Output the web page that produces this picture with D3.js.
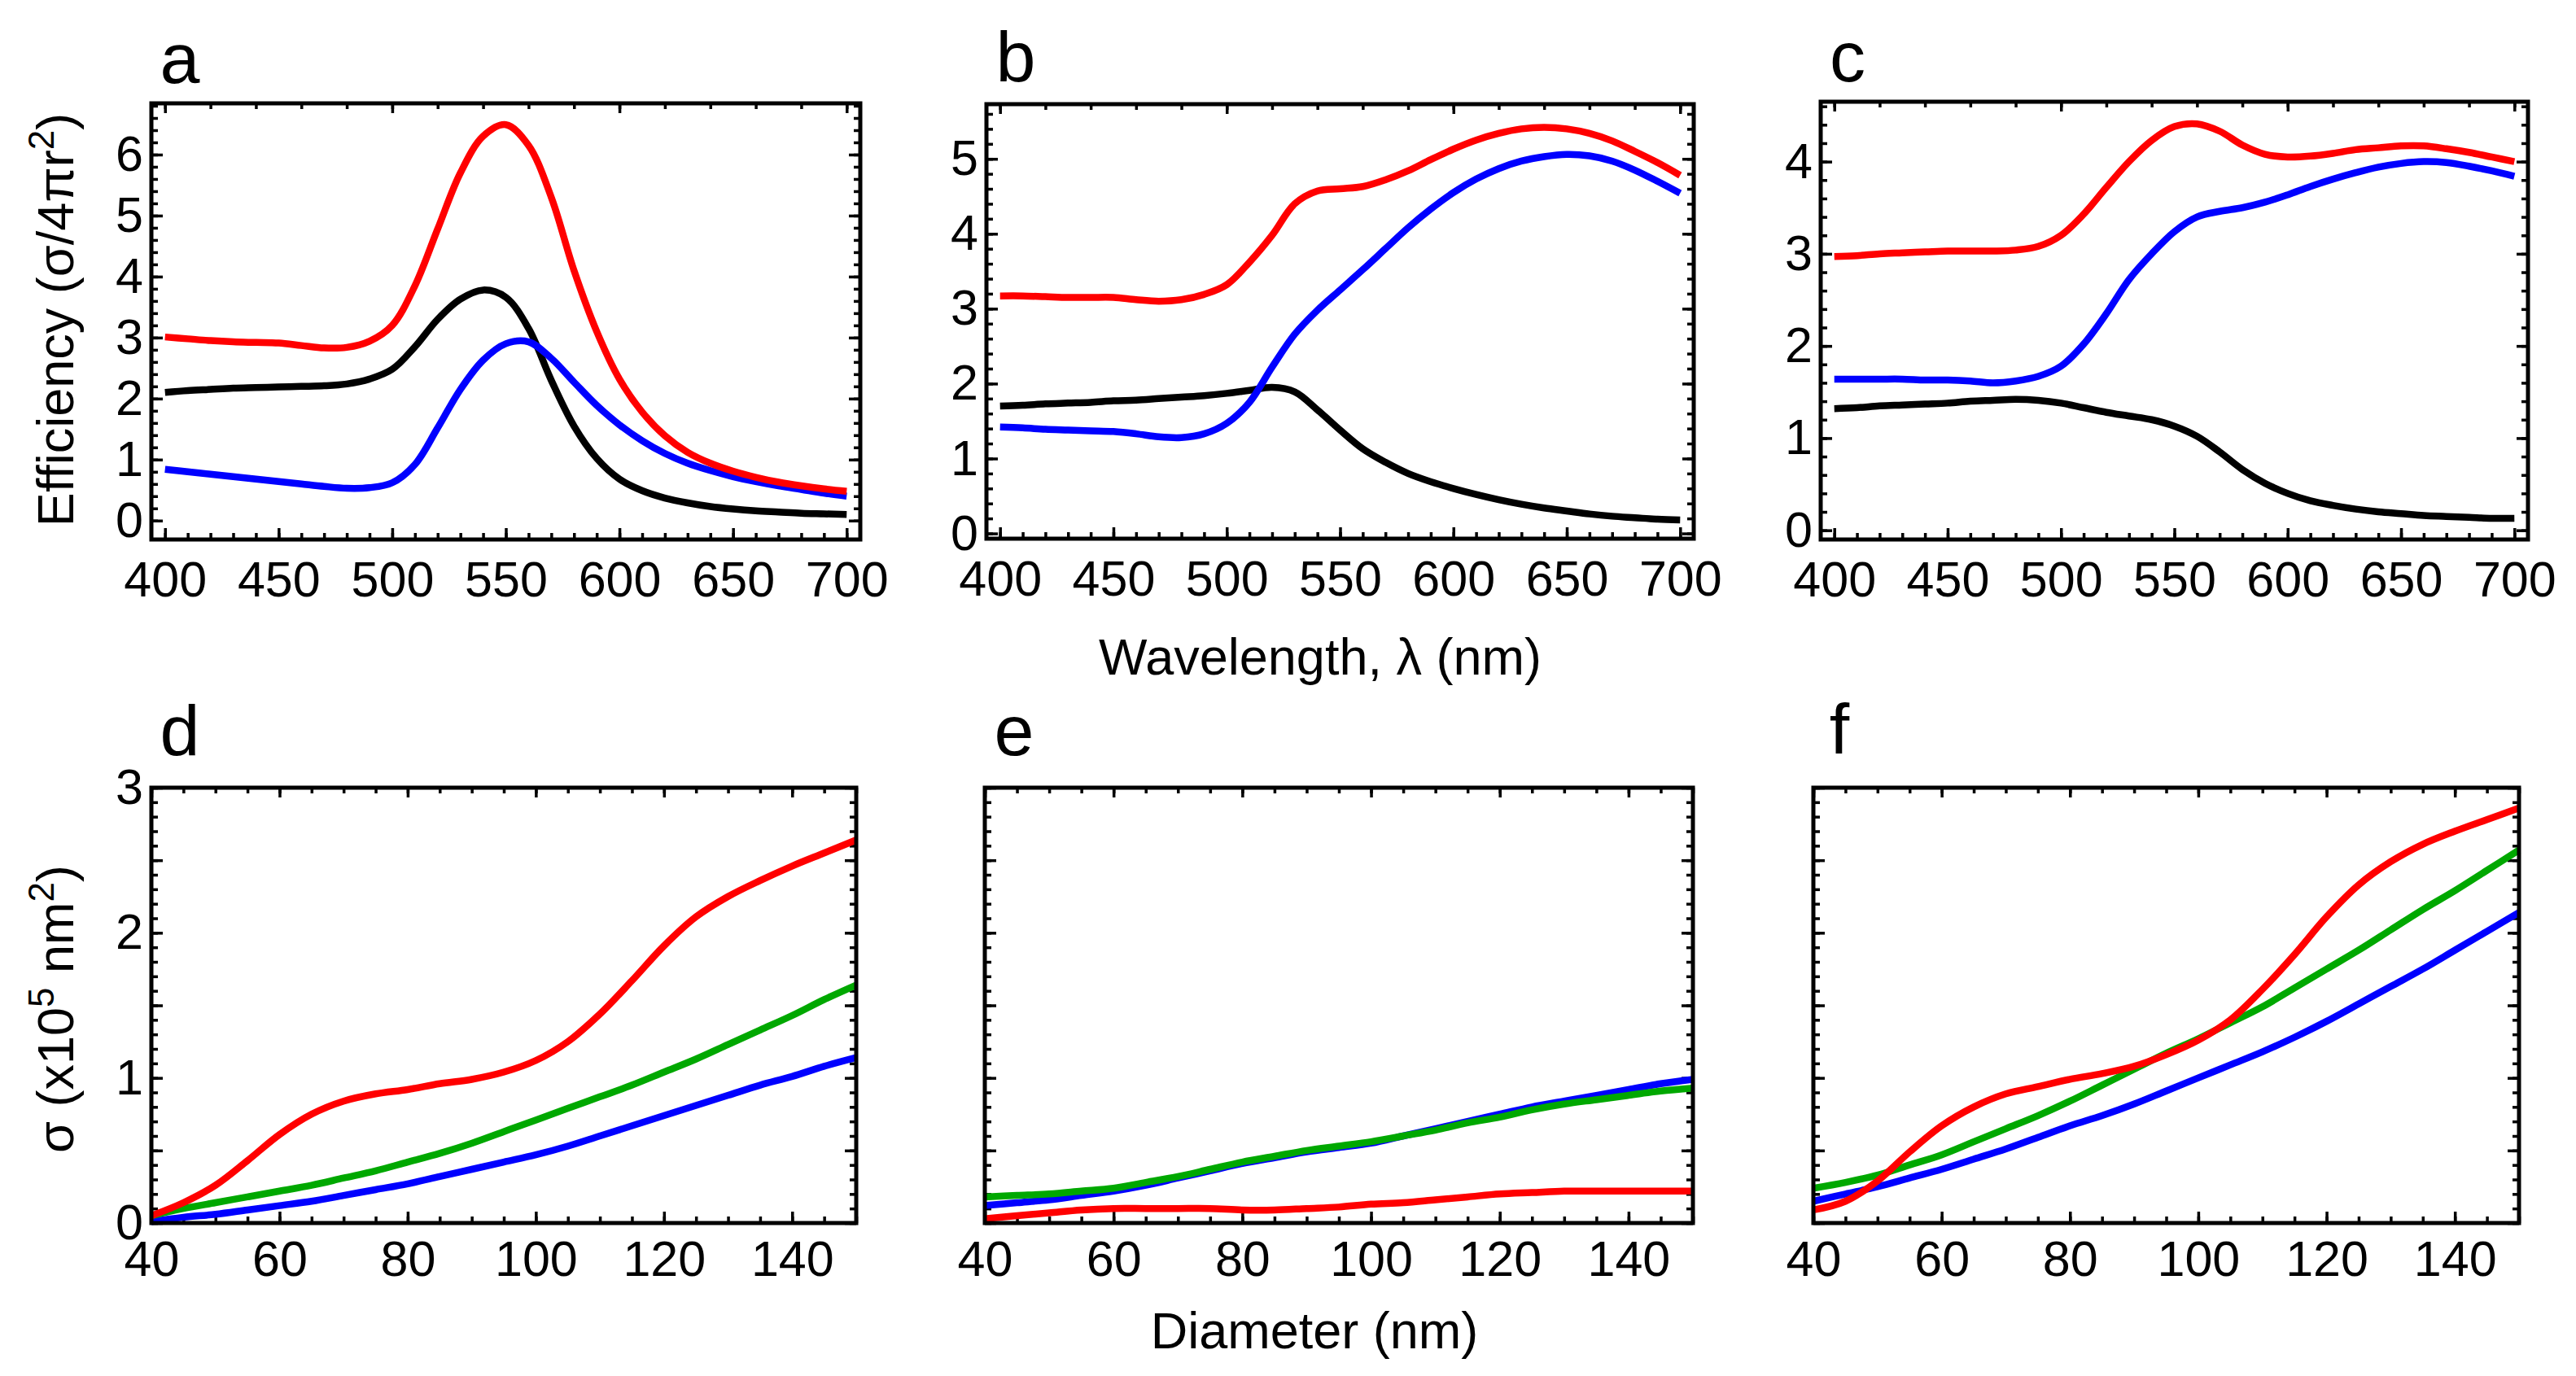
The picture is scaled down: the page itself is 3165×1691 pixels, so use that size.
<!DOCTYPE html>
<html lang="en">
<head>
  <meta charset="UTF-8">
  <script src="https://d3js.org/d3.v7.min.js"></script>
  <style>
    body { margin: 0; background: #fff; }
    text { font-family: "Liberation Sans", Arial, sans-serif; fill: #000; }
  </style>
</head>
<body>
<div id="my_dataviz"></div>
<script>
// ---- data ----
var wavelengths = [400, 410, 420, 430, 440, 450, 460, 470, 480, 490, 500, 510, 520, 530, 540, 550,
                   560, 570, 580, 590, 600, 610, 620, 630, 640, 650, 660, 670, 680, 690, 700];
var diameters = [40, 45, 50, 55, 60, 65, 70, 75, 80, 85, 90, 95, 100, 105, 110, 115, 120, 125, 130, 135, 140, 145, 150];

// panel a
var aRed   = [3.01, 2.98, 2.95, 2.93, 2.92, 2.91, 2.87, 2.83, 2.84, 2.94, 3.20, 3.85, 4.78, 5.70, 6.30, 6.49,
              6.15, 5.30, 4.10, 3.10, 2.32, 1.78, 1.39, 1.12, 0.94, 0.81, 0.71, 0.63, 0.57, 0.52, 0.48];
var aBlack = [2.10, 2.13, 2.15, 2.17, 2.18, 2.19, 2.20, 2.21, 2.24, 2.32, 2.48, 2.85, 3.30, 3.63, 3.78, 3.66,
              3.15, 2.30, 1.55, 1.02, 0.68, 0.49, 0.37, 0.29, 0.23, 0.19, 0.16, 0.14, 0.12, 0.11, 0.10];
var aBlue  = [0.84, 0.80, 0.76, 0.72, 0.68, 0.64, 0.60, 0.56, 0.53, 0.54, 0.62, 0.92, 1.52, 2.15, 2.63, 2.90,
              2.93, 2.66, 2.27, 1.89, 1.57, 1.31, 1.10, 0.94, 0.82, 0.72, 0.64, 0.57, 0.51, 0.45, 0.40];
// panel b
var bRed   = [3.17, 3.17, 3.16, 3.15, 3.15, 3.15, 3.12, 3.10, 3.12, 3.19, 3.32, 3.62, 3.98, 4.40, 4.57, 4.60,
              4.63, 4.72, 4.84, 4.99, 5.13, 5.25, 5.34, 5.40, 5.42, 5.40, 5.34, 5.24, 5.10, 4.95, 4.78];
var bBlack = [1.70, 1.71, 1.73, 1.74, 1.75, 1.77, 1.78, 1.80, 1.82, 1.84, 1.87, 1.91, 1.95, 1.89, 1.65, 1.38,
              1.13, 0.95, 0.80, 0.69, 0.60, 0.52, 0.45, 0.39, 0.34, 0.30, 0.26, 0.23, 0.21, 0.19, 0.18];
var bBlue  = [1.42, 1.41, 1.39, 1.38, 1.37, 1.36, 1.33, 1.29, 1.28, 1.33, 1.47, 1.75, 2.22, 2.66, 2.98, 3.25,
              3.52, 3.80, 4.08, 4.33, 4.55, 4.73, 4.87, 4.97, 5.03, 5.06, 5.04, 4.97, 4.85, 4.70, 4.54];
// panel c
var cRed   = [2.97, 2.98, 3.00, 3.01, 3.02, 3.03, 3.03, 3.03, 3.04, 3.08, 3.20, 3.43, 3.72, 4.00, 4.23, 4.38,
              4.41, 4.33, 4.18, 4.08, 4.05, 4.06, 4.09, 4.13, 4.15, 4.17, 4.17, 4.14, 4.10, 4.05, 4.00];
var cBlack = [1.32, 1.33, 1.35, 1.36, 1.37, 1.38, 1.40, 1.41, 1.42, 1.41, 1.38, 1.33, 1.28, 1.24, 1.20, 1.13,
              1.02, 0.85, 0.66, 0.51, 0.40, 0.32, 0.27, 0.23, 0.20, 0.18, 0.16, 0.15, 0.14, 0.13, 0.13];
var cBlue  = [1.64, 1.64, 1.64, 1.64, 1.63, 1.63, 1.62, 1.60, 1.62, 1.67, 1.78, 2.02, 2.35, 2.72, 3.00, 3.24,
              3.40, 3.46, 3.50, 3.56, 3.64, 3.73, 3.81, 3.88, 3.94, 3.98, 4.00, 3.99, 3.95, 3.90, 3.84];
// panel d
var dRed   = [0.05, 0.14, 0.26, 0.43, 0.61, 0.75, 0.84, 0.89, 0.92, 0.96, 0.99, 1.04, 1.12, 1.25, 1.44, 1.67,
              1.91, 2.11, 2.25, 2.36, 2.46, 2.55, 2.64];
var dGreen = [0.05, 0.10, 0.14, 0.18, 0.22, 0.26, 0.31, 0.36, 0.42, 0.48, 0.55, 0.63, 0.71, 0.79, 0.87, 0.95,
              1.04, 1.13, 1.23, 1.33, 1.43, 1.54, 1.64];
var dBlue  = [0.01, 0.04, 0.06, 0.09, 0.12, 0.15, 0.19, 0.23, 0.27, 0.32, 0.37, 0.42, 0.47, 0.53, 0.60, 0.67,
              0.74, 0.81, 0.88, 0.95, 1.01, 1.08, 1.14];
// panel e
var eRed   = [0.03, 0.05, 0.07, 0.09, 0.10, 0.10, 0.10, 0.10, 0.09, 0.09, 0.10, 0.11, 0.13, 0.14, 0.16, 0.18,
              0.20, 0.21, 0.22, 0.22, 0.22, 0.22, 0.22];
var eGreen = [0.18, 0.19, 0.20, 0.22, 0.24, 0.28, 0.32, 0.37, 0.42, 0.46, 0.50, 0.53, 0.56, 0.60, 0.64, 0.69,
              0.73, 0.78, 0.82, 0.85, 0.88, 0.91, 0.93];
var eBlue  = [0.12, 0.14, 0.16, 0.19, 0.22, 0.26, 0.31, 0.36, 0.41, 0.45, 0.49, 0.52, 0.55, 0.60, 0.65, 0.70,
              0.75, 0.80, 0.84, 0.88, 0.92, 0.96, 0.99];
// panel f
var fRed   = [0.09, 0.15, 0.29, 0.49, 0.67, 0.80, 0.89, 0.94, 0.99, 1.03, 1.08, 1.16, 1.26, 1.40, 1.61, 1.85,
              2.11, 2.33, 2.49, 2.61, 2.70, 2.78, 2.86];
var fGreen = [0.24, 0.28, 0.33, 0.40, 0.47, 0.56, 0.65, 0.74, 0.84, 0.95, 1.06, 1.17, 1.27, 1.38, 1.49, 1.62,
              1.75, 1.88, 2.02, 2.16, 2.29, 2.43, 2.57];
var fBlue  = [0.15, 0.20, 0.25, 0.31, 0.37, 0.44, 0.51, 0.59, 0.67, 0.74, 0.82, 0.91, 1.00, 1.09, 1.18, 1.28,
              1.39, 1.51, 1.63, 1.75, 1.88, 2.01, 2.14];

// tick labels
var wlTicks = [400, 450, 500, 550, 600, 650, 700];
var diamTicks = [40, 60, 80, 100, 120, 140];
var aTicks = [0, 1, 2, 3, 4, 5, 6];
var bTicks = [0, 1, 2, 3, 4, 5];
var cTicks = [0, 1, 2, 3, 4];
var sigmaTicks = [0, 1, 2, 3];

// ---- layout ----
var RED = "#ff0000", BLUE = "#0000ff", BLACK = "#000000", GREEN = "#00a800";

var svg = d3.select("#my_dataviz")
  .append("svg")
  .attr("width", 3165)
  .attr("height", 1691);

var panels = [
  { label: "a", box: [186, 127, 1057, 663], xDom: [394, 706], yDom: [-0.31, 6.84], xs: wavelengths, row: 0,
    yLabels: aTicks, series: [[aBlack, BLACK], [aBlue, BLUE], [aRed, RED]], labelPos: [221, 102] },
  { label: "b", box: [1212, 128, 2081, 662], xDom: [394, 706], yDom: [-0.07, 5.73], xs: wavelengths, row: 0,
    yLabels: bTicks, series: [[bBlack, BLACK], [bBlue, BLUE], [bRed, RED]], labelPos: [1248, 100] },
  { label: "c", box: [2237, 125, 3106, 663], xDom: [394, 706], yDom: [-0.10, 4.65], xs: wavelengths, row: 0,
    yLabels: cTicks, series: [[cBlack, BLACK], [cBlue, BLUE], [cRed, RED]], labelPos: [2270, 100] },
  { label: "d", box: [186, 968, 1052, 1503], xDom: [40, 150], yDom: [0, 3], xs: diameters, row: 1,
    yLabels: sigmaTicks, series: [[dBlue, BLUE], [dGreen, GREEN], [dRed, RED]], labelPos: [221, 928] },
  { label: "e", box: [1210, 968, 2080, 1503], xDom: [40, 150], yDom: [0, 3], xs: diameters, row: 1,
    yLabels: [], series: [[eRed, RED], [eBlue, BLUE], [eGreen, GREEN]], labelPos: [1246, 928] },
  { label: "f", box: [2228, 968, 3095, 1503], xDom: [40, 150], yDom: [0, 3], xs: diameters, row: 1,
    yLabels: [], series: [[fBlue, BLUE], [fGreen, GREEN], [fRed, RED]], labelPos: [2260, 926] }
];

function tickRange(a, b, step) {
  var out = [];
  for (var v = a; v <= b + 1e-9; v += step) out.push(Math.round(v * 1000) / 1000);
  return out;
}

function styleAxis(g) {
  g.select(".domain").remove();
  g.selectAll("line").attr("stroke", "#000").attr("stroke-width", 3.5);
  g.selectAll("text").attr("font-size", 61).attr("font-family", "'Liberation Sans', Arial, sans-serif").attr("fill", "#000");
}

panels.forEach(function(p) {
  var x0 = p.box[0], y0 = p.box[1], x1 = p.box[2], y1 = p.box[3];
  var x = d3.scaleLinear().domain(p.xDom).range([x0, x1]);
  var y = d3.scaleLinear().domain(p.yDom).range([y1, y0]);
  var g = svg.append("g");

  var botMajor, botMinor, topMajor, topMinor, leftMajor, leftMinor;
  if (p.row === 0) {
    botMajor = wlTicks; botMinor = tickRange(400, 700, 10);
    topMajor = [400, 500, 600, 700]; topMinor = tickRange(400, 700, 20);
    leftMajor = tickRange(0, Math.floor(p.yDom[1]), 1); leftMinor = tickRange(0, p.yDom[1], 0.2);
  } else {
    botMajor = diamTicks; botMinor = tickRange(40, 150, 5);
    topMajor = diamTicks; topMinor = tickRange(40, 150, 5);
    leftMajor = tickRange(0, 3, 0.5); leftMinor = tickRange(0, 3, 0.1);
  }
  var xLabels = p.row === 0 ? wlTicks : diamTicks;
  var pad = p.row === 0 ? 27 : 22;

  // minor ticks (inward)
  g.append("g").attr("transform", "translate(0," + y1 + ")")
    .call(d3.axisBottom(x).tickValues(botMinor).tickSize(-8).tickFormat("")).call(styleAxis);
  g.append("g").attr("transform", "translate(0," + y0 + ")")
    .call(d3.axisTop(x).tickValues(topMinor).tickSize(-7).tickFormat("")).call(styleAxis);
  g.append("g").attr("transform", "translate(" + x0 + ",0)")
    .call(d3.axisLeft(y).tickValues(leftMinor).tickSize(-8).tickFormat("")).call(styleAxis);
  g.append("g").attr("transform", "translate(" + x1 + ",0)")
    .call(d3.axisRight(y).tickValues(leftMinor).tickSize(-8).tickFormat("")).call(styleAxis);

  // major ticks with labels on bottom and left
  g.append("g").attr("transform", "translate(0," + y1 + ")")
    .call(d3.axisBottom(x).tickValues(botMajor).tickSize(-14).tickPadding(pad)
      .tickFormat(function(d) { return xLabels.indexOf(d) >= 0 ? d : ""; }))
    .call(styleAxis);
  g.append("g").attr("transform", "translate(0," + y0 + ")")
    .call(d3.axisTop(x).tickValues(topMajor).tickSize(-12).tickFormat("")).call(styleAxis);
  g.append("g").attr("transform", "translate(" + x0 + ",0)")
    .call(d3.axisLeft(y).tickValues(leftMajor).tickSize(-14).tickPadding(10)
      .tickFormat(function(d) { return p.yLabels.indexOf(d) >= 0 ? d : ""; }))
    .call(styleAxis);
  g.append("g").attr("transform", "translate(" + x1 + ",0)")
    .call(d3.axisRight(y).tickValues(leftMajor).tickSize(-14).tickFormat("")).call(styleAxis);

  // curves
  var line = d3.line()
    .x(function(d) { return x(d[0]); })
    .y(function(d) { return y(d[1]); })
    .curve(d3.curveCatmullRom.alpha(0.5));

  p.series.forEach(function(s) {
    var pts = p.xs.map(function(v, i) { return [v, s[0][i]]; });
    g.append("path")
      .datum(pts)
      .attr("d", line)
      .attr("fill", "none")
      .attr("stroke", s[1])
      .attr("stroke-width", 8.5)
      .attr("stroke-linejoin", "round");
  });

  // frame
  g.append("rect")
    .attr("x", x0).attr("y", y0)
    .attr("width", x1 - x0).attr("height", y1 - y0)
    .attr("fill", "none").attr("stroke", "#000").attr("stroke-width", 5);

  // panel letter
  svg.append("text")
    .attr("x", p.labelPos[0]).attr("y", p.labelPos[1])
    .attr("text-anchor", "middle")
    .attr("font-size", 88)
    .text(p.label);
});

// axis titles
var yt1 = svg.append("text")
  .attr("transform", "translate(90,393) rotate(-90)")
  .attr("text-anchor", "middle")
  .attr("font-size", 63);
yt1.append("tspan").text("Efficiency (σ/4πr");
yt1.append("tspan").attr("dy", -24).attr("font-size", 44).text("2");
yt1.append("tspan").attr("dy", 24).text(")");

var yt2 = svg.append("text")
  .attr("transform", "translate(90,1240) rotate(-90)")
  .attr("text-anchor", "middle")
  .attr("font-size", 63);
yt2.append("tspan").text("σ (x10");
yt2.append("tspan").attr("dy", -24).attr("font-size", 44).text("5");
yt2.append("tspan").attr("dy", 24).text(" nm");
yt2.append("tspan").attr("dy", -24).attr("font-size", 44).text("2");
yt2.append("tspan").attr("dy", 24).text(")");

svg.append("text")
  .attr("x", 1622).attr("y", 829)
  .attr("text-anchor", "middle")
  .attr("font-size", 63)
  .text("Wavelength, λ (nm)");

svg.append("text")
  .attr("x", 1615).attr("y", 1657)
  .attr("text-anchor", "middle")
  .attr("font-size", 63)
  .text("Diameter (nm)");
</script>
</body>
</html>
